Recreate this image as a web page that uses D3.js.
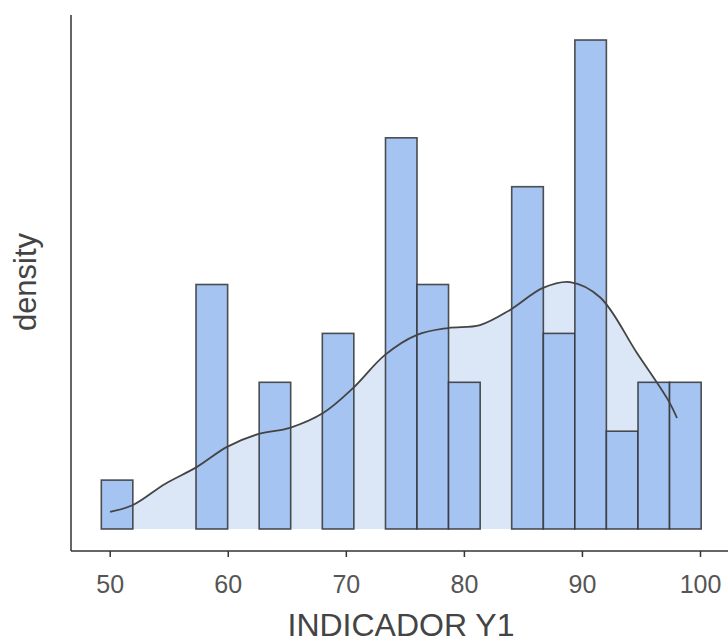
<!DOCTYPE html>
<html>
<head>
<meta charset="utf-8">
<script src="https://cdn.jsdelivr.net/npm/d3@7"></script>
<style>
  body { margin: 0; background: #fff; }
  svg { display: block; font-family: "Liberation Sans", Arial, sans-serif; }
</style>
</head>
<body>
<div id="wrapper"></div>
<script>
// histogram bins (edges) and counts
const binEdges = [49.29, 51.96, 54.64, 57.31, 59.99, 62.66, 65.33, 68.01, 70.68, 73.36,
  76.03, 78.70, 81.38, 84.05, 86.73, 89.40, 92.07, 94.75, 97.42, 100.10]
const binCounts = [1, 0, 0, 5, 0, 3, 0, 4, 0, 8, 5, 3, 0, 7, 4, 10, 2, 3, 3]

// density curve (in count units)
const densityX = [50.03, 51.97, 54.68, 57.39, 59.94, 62.56, 65.27, 68.07, 70.61, 73.32,
  76.03, 78.66, 81.37, 83.91, 86.70, 88.99, 91.53, 94.66, 97.29, 98.05]
const densityY = [0.35, 0.49, 0.92, 1.27, 1.68, 1.94, 2.07, 2.37, 2.88, 3.56,
  3.97, 4.11, 4.17, 4.48, 4.93, 5.05, 4.74, 3.60, 2.64, 2.27]

const xTicks = [50, 60, 70, 80, 90, 100]

const dimensions = { width: 728, height: 644 }

const xScale = d3.scaleLinear().domain([50, 100]).range([109.7, 700])
const yScale = d3.scaleLinear().domain([0, 10]).range([529, 40])

const svg = d3.select('#wrapper')
  .append('svg')
  .attr('width', dimensions.width)
  .attr('height', dimensions.height)

const bins = binCounts.map((c, i) => ({ x0: binEdges[i], x1: binEdges[i + 1], count: c }))
const density = densityX.map((x, i) => ({ x, y: densityY[i] }))

// density area under bars
svg.append('path')
  .datum(density)
  .attr('fill', '#dbe6f7')
  .attr('d', d3.area()
    .x(d => xScale(d.x))
    .y0(yScale(0))
    .y1(d => yScale(d.y))
    .curve(d3.curveCatmullRom))

// bars
svg.append('g')
  .selectAll('rect')
  .data(bins)
  .enter()
  .append('rect')
  .attr('x', d => xScale(d.x0))
  .attr('width', d => xScale(d.x1) - xScale(d.x0))
  .attr('y', d => yScale(d.count))
  .attr('height', d => yScale(0) - yScale(d.count))
  .attr('fill', d => d.count > 0 ? '#a5c4f1' : 'none')
  .attr('stroke', '#333')
  .attr('stroke-opacity', 0.85)
  .attr('stroke-width', 1.6)

// density line
svg.append('path')
  .datum(density)
  .attr('fill', 'none')
  .attr('stroke', '#444')
  .attr('stroke-width', 1.8)
  .attr('d', d3.line()
    .x(d => xScale(d.x))
    .y(d => yScale(d.y))
    .curve(d3.curveCatmullRom))

// axes
const axisY = 551
svg.append('line')
  .attr('x1', 71).attr('x2', 71).attr('y1', 15).attr('y2', axisY)
  .attr('stroke', '#333').attr('stroke-width', 1.5)
svg.append('line')
  .attr('x1', 71).attr('x2', 728).attr('y1', axisY).attr('y2', axisY)
  .attr('stroke', '#333').attr('stroke-width', 1.5)

const xAxis = svg.append('g')
  .attr('transform', `translate(0, ${axisY})`)
  .call(d3.axisBottom(xScale).tickValues(xTicks).tickSize(6).tickPadding(18))
xAxis.select('.domain').remove()
xAxis.selectAll('line').attr('stroke', '#333').attr('stroke-width', 1.5)
xAxis.selectAll('text')
  .attr('font-size', 25)
  .attr('fill', '#555')
  .attr('font-family', '"Liberation Sans", Arial, sans-serif')

svg.append('text')
  .attr('x', 401)
  .attr('y', 636)
  .attr('text-anchor', 'middle')
  .attr('font-size', 32)
  .attr('fill', '#444')
  .text('INDICADOR Y1')

svg.append('text')
  .attr('transform', 'translate(36, 282) rotate(-90)')
  .attr('text-anchor', 'middle')
  .attr('font-size', 31)
  .attr('fill', '#444')
  .text('density')
</script>
</body>
</html>
